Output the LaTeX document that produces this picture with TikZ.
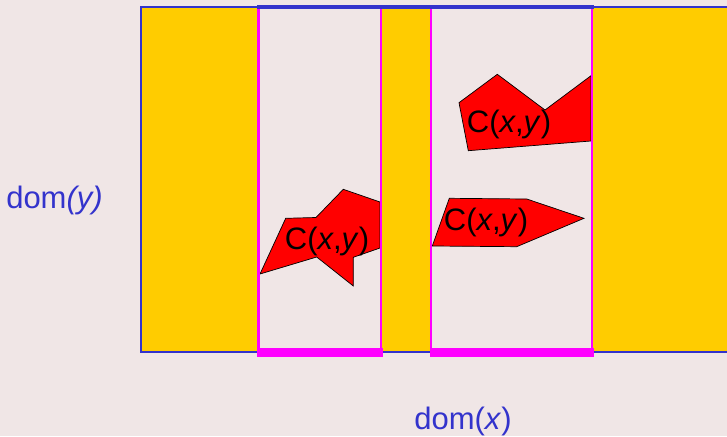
\documentclass[tikz,border=0pt]{standalone}
\usepackage{fontspec}
\setmainfont{Liberation Sans}
\usetikzlibrary{positioning}
\definecolor{bgpink}{HTML}{F0E6E6}
\definecolor{domblue}{HTML}{3333CC}
\definecolor{gold}{HTML}{FFCC00}
\definecolor{slicemag}{HTML}{FF00FF}

\begin{document}
\begin{tikzpicture}[x=1pt,y=-1pt,every node/.style={font=\fontsize{31}{36}\selectfont}]
  \tikzstyle{strip} = [fill=bgpink]
  \tikzstyle{stripside} = [draw=slicemag, line width=2.5pt]
  \tikzstyle{region} = [draw=black, line width=0.7pt, fill=red, line join=miter]
  \tikzstyle{domlabel} = [text=domblue, inner sep=0pt]
  \tikzstyle{cxy} = [inner sep=0pt]

  \fill[bgpink] (0,0) rectangle (727,436);
  \useasboundingbox (0,0) rectangle (727,436);

  % Whole domain: yellow, running past the right edge of the page.
  \draw[domblue, line width=1.5pt, fill=gold] (740,7) -- (141,7) -- (141,352) -- (740,352);

  % The two slices x = const, cut out of the yellow area.
  \fill[strip] (258.5,8) rectangle (381,348);
  \fill[strip] (431,8) rectangle (592,348);

  % Relation pieces C(x,y) lying in the slices.
  \draw[region] (260,274) -- (285.7,218.3) -- (316,217.5) -- (343.3,189.3)
      -- (380,202) -- (380,248) -- (353.3,257.3) -- (353.3,286) -- (316.7,257) -- cycle;
  \draw[region] (459,102.7) -- (497.3,74.3) -- (545,110) -- (591,75.7)
      -- (591,141) -- (468.3,150.7) -- cycle;
  \draw[region] (449.3,198.3) -- (526.7,199) -- (584,218.3) -- (516.7,246.7)
      -- (432.3,246) -- cycle;

  \node (cxyleft) [cxy] at (327,241) {C(\textit{x},\textit{y})};
  \node (cxytop)  [cxy] at (509,124) {C(\textit{x},\textit{y})};
  \node (cxymid)  [cxy] at (486,222) {C(\textit{x},\textit{y})};

  % Slice borders: magenta sides, blue top, thick magenta foot.
  \draw[stripside] (258.5,8) -- (258.5,348);
  \draw[stripside] (381,8) -- (381,348);
  \draw[stripside] (431,8) -- (431,348);
  \draw[stripside] (592,8) -- (592,348);
  \draw[domblue, line width=4pt] (257,7) -- (593.5,7);
  \fill[slicemag] (257,348) rectangle (382.5,357);
  \fill[slicemag] (429.5,348) rectangle (593.5,357);

  \node (domy) [domlabel] at (54.5,200) {dom\textit{(y)}};
  \node (domx) [domlabel] at (463,421) {dom(\textit{x})};
\end{tikzpicture}
\end{document}
